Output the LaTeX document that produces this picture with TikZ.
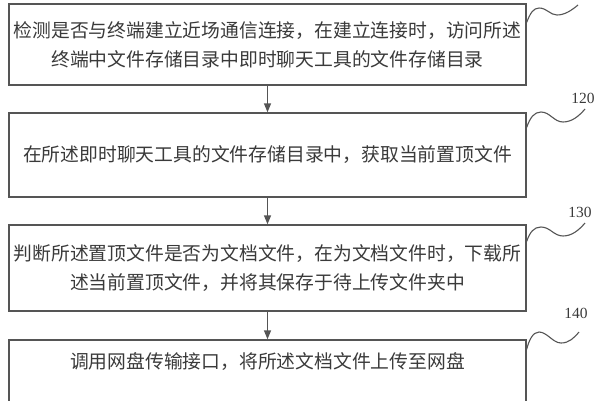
\documentclass[tikz,border=0pt]{standalone}
\usepackage{fontspec}
\setmainfont{Liberation Serif}
\newfontfamily\cjk{Noto Sans CJK SC}
\usetikzlibrary{arrows.meta}
\definecolor{linegray}{HTML}{555555}
\definecolor{textgray}{HTML}{3A3A3A}
\begin{document}
\begin{tikzpicture}[x=1pt,y=-1pt,
  stepbox/.style={draw=linegray, line width=1.4pt, minimum width=517pt, inner sep=0pt,
    font=\cjk\fontsize{18.8}{29}\selectfont, text=textgray, align=center},
  boxtext/.style={inner sep=0pt, font=\cjk\fontsize{18.8}{29}\selectfont, text=textgray, align=center},
  flow/.style={draw=linegray, line width=1.4pt, -{Triangle[length=9pt,width=7pt]}},
  wave/.style={draw=linegray, line width=1.1pt},
  reflabel/.style={font=\fontsize{15.5}{15.5}\selectfont, text=textgray, inner sep=0pt}]
\useasboundingbox (0,0) rectangle (600,400);
\clip (0,0) rectangle (600,400);
\fill[white] (0,0) rectangle (600,400);

\node[stepbox, minimum height=81pt] (b1) at (267.5,44.5)
  {检测是否与终端建立近场通信连接，在建立连接时，访问所述\\终端中文件存储目录中即时聊天工具的文件存储目录};
\node[stepbox, minimum height=84pt] (b2) at (267.5,155)
  {在所述即时聊天工具的文件存储目录中，获取当前置顶文件};
\node[stepbox, minimum height=86pt] (b3) at (267.5,268)
  {判断所述置顶文件是否为文档文件，在为文档文件时，下载所\\述当前置顶文件，并将其保存于待上传文件夹中};
\node[stepbox, minimum height=85pt] (b4) at (267.5,382.5) {};
\node[boxtext] (t4) at (267.5,362) {调用网盘传输接口，将所述文档文件上传至网盘};

\draw[flow] (b1) -- (b2);
\draw[flow] (b2) -- (b3);
\draw[flow] (b3) -- (b4);

\draw[wave] ([yshift=-19pt]b1.north east) .. controls (530,14) and (533,8) .. (539,8)
  .. controls (547,8) and (550,15) .. (557,15) .. controls (565,15) and (572,10) .. (578,5);
\draw[wave] ([yshift=-15pt]b2.north east) .. controls (530,118) and (534,112) .. (541,112)
  .. controls (550,112) and (554,122) .. (563,122) .. controls (572,122) and (579,116) .. (585,109);
\draw[wave] ([yshift=-17pt]b3.north east) .. controls (530,232) and (534,227) .. (541,227)
  .. controls (550,227) and (554,236) .. (563,236) .. controls (572,236) and (579,230) .. (585,223);
\draw[wave] ([yshift=-10pt]b4.north east) .. controls (529,340) and (533,332) .. (539,332)
  .. controls (547,332) and (553,343) .. (561,343) .. controls (569,343) and (574,338) .. (579,332);

\node[reflabel] (l2) at (583,98) {120};
\node[reflabel] (l3) at (580,212) {130};
\node[reflabel] (l4) at (576,313) {140};
\end{tikzpicture}
\end{document}
